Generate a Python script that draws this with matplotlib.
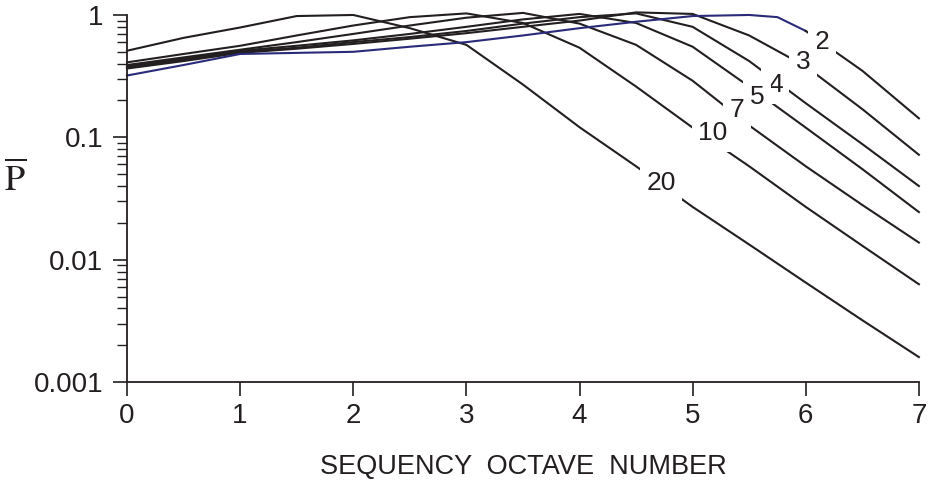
import matplotlib
matplotlib.use('Agg')
from matplotlib import pyplot as plt
from matplotlib.ticker import FixedLocator, FixedFormatter, LogLocator, NullFormatter

# sequency octave number
octave = [0, 0.5, 1, 1.5, 2, 2.5, 3, 3.5, 4, 4.5, 5, 5.5, 6, 6.5, 7]

# P-bar for each parameter value
p20 = [0.51, 0.65, 0.79, 0.98, 1.0, 0.78, 0.57, 0.27, 0.121, 0.058, 0.027, 0.0133, 0.0065, 0.0032, 0.0016]
p10 = [0.41, 0.48, 0.56, 0.68, 0.82, 0.96, 1.03, 0.86, 0.54, 0.26, 0.12, 0.058, 0.027, 0.013, 0.0063]
p7 = [0.39, 0.45, 0.52, 0.60, 0.70, 0.82, 0.95, 1.04, 0.85, 0.57, 0.29, 0.125, 0.058, 0.028, 0.0138]
p5 = [0.38, 0.44, 0.51, 0.56, 0.62, 0.70, 0.80, 0.92, 1.02, 0.86, 0.55, 0.26, 0.12, 0.055, 0.0245]
p4 = [0.37, 0.43, 0.50, 0.54, 0.60, 0.66, 0.74, 0.85, 0.96, 1.03, 0.80, 0.42, 0.19, 0.088, 0.040]
p3 = [0.365, 0.42, 0.49, 0.53, 0.58, 0.64, 0.71, 0.80, 0.90, 1.05, 1.02, 0.68, 0.38, 0.17, 0.072]

# the "2" curve is printed blue up to its label, black after it
oct2_blue = [0, 0.5, 1, 1.5, 2, 2.5, 3, 3.5, 4, 4.5, 5, 5.5, 5.75, 6]
p2_blue = [0.32, 0.39, 0.48, 0.49, 0.50, 0.55, 0.60, 0.68, 0.78, 0.88, 0.98, 1.0, 0.96, 0.74]
oct2_black = [6, 6.5, 7]
p2_black = [0.74, 0.35, 0.143]

curves = [p20, p10, p7, p5, p4, p3]

# label name, x, y
labels = [('2', 6.14, 0.60), ('3', 5.975, 0.41), ('4', 5.73, 0.267), ('5', 5.57, 0.213),
          ('7', 5.39, 0.166), ('10', 5.18, 0.108), ('20', 4.72, 0.042)]

ink = '#231f20'
navy = '#2a2a7a'

plt.rcParams['font.family'] = ['Liberation Sans Narrow', 'Liberation Sans', 'DejaVu Sans']
plt.rcParams['mathtext.fontset'] = 'stix'

fig = plt.figure(figsize=(9.31, 4.83), dpi=100)
ax = fig.add_axes([0.1364, 0.209, 0.8506, 0.760])

for c in curves:
    ax.plot(octave, c, color=ink, lw=1.5, clip_on=False, zorder=2)
ax.plot(oct2_blue, p2_blue, color=navy, lw=1.5, clip_on=False, zorder=2)
ax.plot(oct2_black, p2_black, color=ink, lw=1.5, clip_on=False, zorder=2)

for name, x, y in labels:
    ax.text(x, y, name, fontsize=19, color=ink, ha='center', va='center', zorder=5,
            bbox=dict(boxstyle='square,pad=0.25', fc='white', ec='none'))

ax.set_yscale('log')
ax.set_xlim(0, 7)
ax.set_ylim(0.001, 1)

ax.yaxis.set_major_locator(FixedLocator([0.001, 0.01, 0.1, 1]))
ax.yaxis.set_major_formatter(FixedFormatter(['0.001', '0.01', '0.1', '1']))
ax.yaxis.set_minor_locator(LogLocator(base=10, subs=range(2, 10)))
ax.yaxis.set_minor_formatter(NullFormatter())
ax.set_xticks(range(8))

for s in ['top', 'right']:
    ax.spines[s].set_visible(False)
for s in ['left', 'bottom']:
    ax.spines[s].set_color(ink)
    ax.spines[s].set_linewidth(1.3)

ax.tick_params(axis='both', which='major', direction='out', length=10, width=1.2,
               color=ink, labelcolor=ink, labelsize=20, pad=5)
ax.tick_params(axis='y', which='major', pad=7)
ax.tick_params(axis='y', which='minor', direction='out', length=7, width=1.0, color=ink)

ax.set_xlabel('SEQUENCY  OCTAVE  NUMBER', fontsize=19.5, color=ink, labelpad=18)
ax.text(-0.141, 0.55, r'$\overline{\mathrm{P}}$', transform=ax.transAxes, fontsize=26,
        color=ink, ha='center', va='center')

fig.savefig('out.png', dpi=100)
